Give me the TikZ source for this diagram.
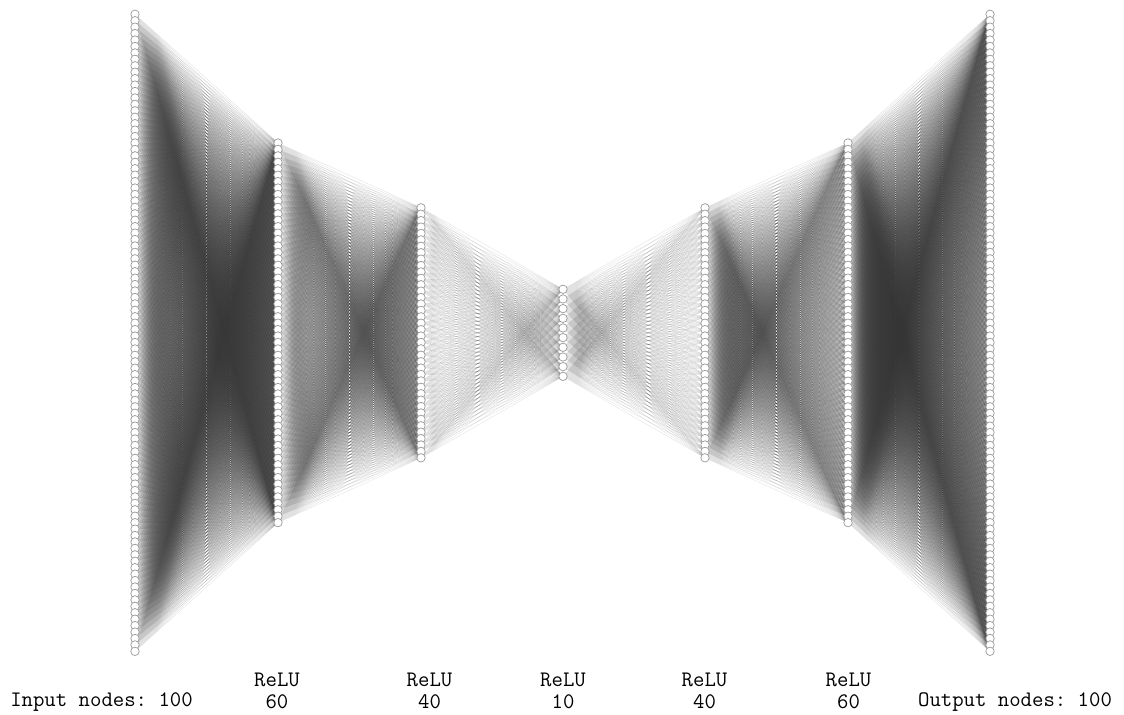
\documentclass[tikz,border=0pt]{standalone}
\usetikzlibrary{backgrounds}

\begin{document}
\begin{tikzpicture}[
    x=0.02cm, y=-0.02cm,
    neuron/.style={
        circle, draw=black!40, fill=white, line width=0.4pt,
        inner sep=0pt, minimum size=4.8pt
    },
    edge/.style={draw=black!80, line width=0.2pt, opacity=0.15},
    lbl/.style={font=\ttfamily\frenchspacing\fontsize{12.6}{14}\selectfont, inner sep=0pt},
]
\useasboundingbox (0,0) rectangle (1124,714);

% Layers: index / x / number of nodes / spacing
\foreach \l/\x/\n/\s in {0/135/100/6.435, 1/278/60/6.435, 2/421/40/6.41,
                         3/563/10/9.67, 4/705/40/6.41, 5/848/60/6.435, 6/990/100/6.435} {
    \foreach \i in {1,...,\n}
        \node[neuron] (n\l-\i) at (\x, {332.8 + (\i - (\n+1)/2)*\s}) {};
}

% Connections (behind the nodes), one fan per source node
\begin{scope}[on background layer]
\foreach \a/\b/\na/\nb in {0/1/100/60, 1/2/60/40, 2/3/40/10,
                           3/4/10/40, 4/5/40/60, 5/6/60/100} {
    \foreach \i in {1,...,\na}
        \draw[edge] \foreach \j in {1,...,\nb} { (n\a-\i.center) -- (n\b-\j.center) };
}
\end{scope}

% Labels
\node[lbl] (in) at (101.5, 702) {Input nodes: 100};
\node[lbl] (act1) at (277, 680) {ReLU};
\node[lbl] (num1) at (277, 702) {60};
\node[lbl] (act2) at (429.5, 680) {ReLU};
\node[lbl] (num2) at (429.5, 702) {40};
\node[lbl] (act3) at (563, 680) {ReLU};
\node[lbl] (num3) at (563, 702) {10};
\node[lbl] (act4) at (704.5, 680) {ReLU};
\node[lbl] (num4) at (704.5, 702) {40};
\node[lbl] (act5) at (848.5, 680) {ReLU};
\node[lbl] (num5) at (848.5, 702) {60};
\node[lbl] (out) at (1015, 702) {Output nodes: 100};

\end{tikzpicture}
\end{document}
